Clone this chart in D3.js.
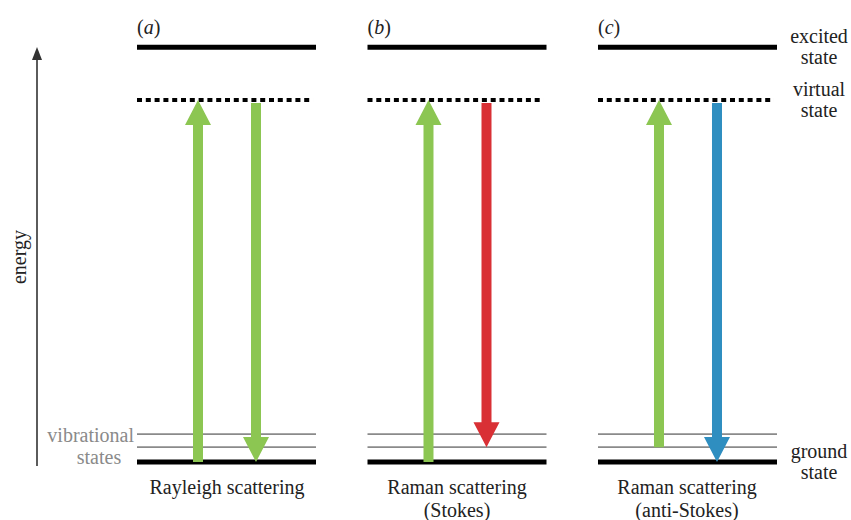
<!DOCTYPE html>
<html><head><meta charset="utf-8">
<script src="https://cdn.jsdelivr.net/npm/d3@7"></script>
</head><body style="margin:0">
<svg width="851" height="520" id="s" font-family="Liberation Serif"></svg>
<script>
// Energy levels (relative units)
const levelNames = ["ground", "vib1", "vib2", "virtual", "excited"];
const levelEnergy = [0, 0.041, 0.077, 1.0, 1.146];

// Panels
const panelIds = ["a", "b", "c"];
const panelTitles = [["Rayleigh scattering"], ["Raman scattering", "(Stokes)"], ["Raman scattering", "(anti-Stokes)"]];

// Arrows: panel, slot (0=up,1=down), from level, to level, colour
const arrowPanel = ["a", "a", "b", "b", "c", "c"];
const arrowSlot = [0, 1, 0, 1, 0, 1];
const arrowFrom = ["ground", "virtual", "ground", "virtual", "vib1", "virtual"];
const arrowTo = ["virtual", "ground", "virtual", "vib1", "virtual", "ground"];
const arrowColor = ["#8cc652", "#8cc652", "#8cc652", "#d93035", "#8cc652", "#2f8ec0"];

// Right-hand state labels
const stateLabelLevel = ["excited", "virtual", "ground"];
const stateLabelText = [["excited", "state"], ["virtual", "state"], ["ground", "state"]];

const FONT = "'Liberation Serif', Tinos, 'Times New Roman', serif";
const svg = d3.select("#s");

const energy = {};
levelNames.forEach((n, i) => { energy[n] = levelEnergy[i]; });
const y = d3.scaleLinear().domain([0, 1]).range([462, 100]);
const px = d3.scaleBand().domain(panelIds).range([137, 777]).paddingInner(0.2234).paddingOuter(0);
const slotX = d3.scaleLinear().domain([0, 1]).range([61, 119]);

const g = svg.append("g");

function serif(sel) {
  return sel.attr("font-family", "Liberation Serif").style("font-family", FONT, "important");
}

function txt(sel, x, yy, s, size, fill, anchor) {
  const t = sel.append("text").attr("x", x).attr("y", yy)
    .attr("text-anchor", anchor || "start").attr("font-size", size).attr("fill", fill);
  serif(t);
  t.append("tspan").text(s);
  serif(t.select("tspan"));
  return t;
}

panelIds.forEach((p, i) => {
  const x0 = px(p), x1 = px(p) + px.bandwidth();
  ["vib1", "vib2"].forEach(l => {
    g.append("line").attr("x1", x0).attr("x2", x1).attr("y1", y(energy[l])).attr("y2", y(energy[l]))
      .attr("stroke", "#8a8a8a").attr("stroke-width", 1.6);
  });
  g.append("line").attr("x1", x0).attr("x2", x1).attr("y1", y(energy.ground)).attr("y2", y(energy.ground))
    .attr("stroke", "#000").attr("stroke-width", 5);
  g.append("line").attr("x1", x0).attr("x2", x1).attr("y1", y(energy.excited)).attr("y2", y(energy.excited))
    .attr("stroke", "#000").attr("stroke-width", 5);
  g.append("line").attr("x1", x0).attr("x2", x1 - 3).attr("y1", y(energy.virtual)).attr("y2", y(energy.virtual))
    .attr("stroke", "#000").attr("stroke-width", 4).attr("stroke-dasharray", "5,3.8");
  const t = g.append("text").attr("x", x0).attr("y", 34).attr("font-size", 20).attr("fill", "#222");
  serif(t);
  t.append("tspan").text("(");
  t.append("tspan").attr("font-style", "italic").text(p);
  t.append("tspan").text(")");
  panelTitles[i].forEach((s, k) => {
    txt(g, Math.round(x0 + px.bandwidth() / 2), 494 + k * 23, s, 20, "#222", "middle");
  });
});

// arrows
const shaftW = 10, headW = 26, headL = 25;
arrowPanel.forEach((p, i) => {
  const cx = px(p) + slotX(arrowSlot[i]);
  const up = energy[arrowTo[i]] > energy[arrowFrom[i]];
  let ys = y(energy[arrowFrom[i]]), ye = y(energy[arrowTo[i]]);
  if (!up) ys += 3;
  const dir = up ? 1 : -1;
  const hb = ye + dir * headL;
  const path = d3.path();
  path.moveTo(cx - shaftW / 2, ys);
  path.lineTo(cx - shaftW / 2, hb);
  path.lineTo(cx - headW / 2, hb);
  path.lineTo(cx, ye);
  path.lineTo(cx + headW / 2, hb);
  path.lineTo(cx + shaftW / 2, hb);
  path.lineTo(cx + shaftW / 2, ys);
  path.closePath();
  g.append("path").attr("d", path.toString()).attr("fill", arrowColor[i]);
});

// energy axis
svg.append("line").attr("x1", 37).attr("x2", 37).attr("y1", 466).attr("y2", 58)
  .attr("stroke", "#333").attr("stroke-width", 1.6);
svg.append("path").attr("d", d3.line()([[32, 60], [37, 47], [42, 60]]) + "Z").attr("fill", "#333");
serif(svg.append("text").attr("transform", "translate(26,257) rotate(-90)").attr("text-anchor", "middle")
  .attr("font-size", 20).attr("fill", "#222").text("energy"));

// vibrational states label
txt(svg, 134, 442, "vibrational", 20, "#8a8a8a", "end");
txt(svg, 99, 464, "states", 20, "#8a8a8a", "middle");

// state labels on the right
stateLabelLevel.forEach((l, i) => {
  const yc = y(energy[l]);
  stateLabelText[i].forEach((s, k) => {
    txt(svg, 819, Math.round(yc - 4 + k * 21), s, 20, "#222", "middle");
  });
});
</script>
</body></html>
